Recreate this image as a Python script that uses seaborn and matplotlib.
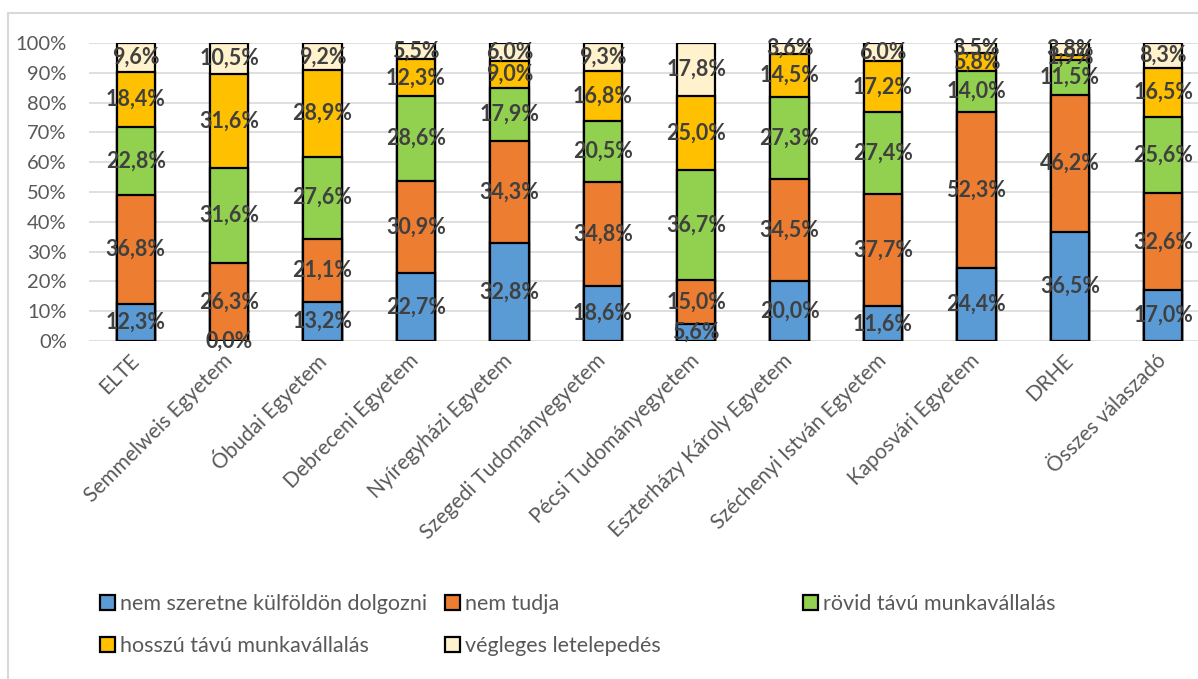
import pandas as pd
import matplotlib.pyplot as plt
import seaborn as sns
from matplotlib.patches import Patch, Rectangle

# Data (percent)
universities = ['ELTE', 'Semmelweis Egyetem', 'Óbudai Egyetem', 'Debreceni Egyetem',
                'Nyíregyházi Egyetem', 'Szegedi Tudományegyetem', 'Pécsi Tudományegyetem',
                'Eszterházy Károly Egyetem', 'Széchenyi István Egyetem', 'Kaposvári Egyetem',
                'DRHE', 'Összes válaszadó']
series_names = ['nem szeretne külföldön dolgozni', 'nem tudja', 'rövid távú munkavállalás',
                'hosszú távú munkavállalás', 'végleges letelepedés']
nem_szeretne = [12.3, 0.0, 13.2, 22.7, 32.8, 18.6, 5.6, 20.0, 11.6, 24.4, 36.5, 17.0]
nem_tudja = [36.8, 26.3, 21.1, 30.9, 34.3, 34.8, 15.0, 34.5, 37.7, 52.3, 46.2, 32.6]
rovid_tavu = [22.8, 31.6, 27.6, 28.6, 17.9, 20.5, 36.7, 27.3, 27.4, 14.0, 11.5, 25.6]
hosszu_tavu = [18.4, 31.6, 28.9, 12.3, 9.0, 16.8, 25.0, 14.5, 17.2, 5.8, 1.9, 16.5]
vegleges = [9.6, 10.5, 9.2, 5.5, 6.0, 9.3, 17.8, 3.6, 6.0, 3.5, 3.8, 8.3]
colors = ['#5B9BD5', '#ED7D31', '#92D050', '#FFC000', '#FFF2CC']

W, H = 1198, 679


def build_table():
    df = pd.DataFrame({'egyetem': universities})
    for name, vals in zip(series_names, [nem_szeretne, nem_tudja, rovid_tavu, hosszu_tavu, vegleges]):
        df[name] = vals
    return df


def main():
    df = build_table()
    cum = df[series_names].cumsum(axis=1)

    sns.set_style('white')
    plt.rcParams['font.family'] = ['Lato', 'DejaVu Sans']

    fig = plt.figure(figsize=(W / 100, H / 100), dpi=100)
    left, right, top, bottom = 89, 1210, 43, 341
    ax = fig.add_axes([left / W, 1 - bottom / H, (right - left) / W, (bottom - top) / H])

    # stacked bars: draw cumulative totals from the top segment down
    for i in reversed(range(len(series_names))):
        sns.barplot(x=df['egyetem'], y=cum[series_names[i]], order=universities,
                    color=colors[i], saturation=1, edgecolor='black', linewidth=1.6,
                    width=0.41, ax=ax, zorder=2)

    # data labels
    for i, name in enumerate(series_names):
        for j, v in enumerate(df[name]):
            ypos = cum[name][j] - v / 2
            ax.text(j, ypos, f'{v:.1f}%'.replace('.', ','), ha='center', va='center',
                    fontsize=15.5, fontweight='bold', color='#404040', zorder=5)

    ax.set_xlim(-0.5, 11.5)
    ax.set_ylim(0, 100)
    ax.set_yticks(range(0, 101, 10))
    ax.set_yticklabels([f'{t}%' for t in range(0, 101, 10)], fontsize=14.5, color='#595959')
    ax.set_xticks(range(len(universities)))
    ax.set_xticklabels(universities, rotation=45, ha='right', va='center',
                       rotation_mode='anchor', fontsize=15, color='#595959')
    ax.tick_params(axis='both', length=0)
    ax.tick_params(axis='y', pad=16)
    ax.tick_params(axis='x', pad=12)
    ax.set_xlabel('')
    ax.set_ylabel('')
    ax.yaxis.grid(True, color='#D9D9D9', linewidth=1.2, zorder=0)
    ax.set_axisbelow(True)
    for s in ax.spines.values():
        s.set_visible(False)

    # legend entries placed like the Excel layout
    slots = [(100, 604), (445, 604), (803, 604), (100, 646), (445, 646)]
    for (px, py), name, c in zip(slots, series_names, colors):
        h = Patch(facecolor=c, edgecolor='black', linewidth=1.6)
        fig.legend(handles=[h], labels=[name], loc='center left',
                   bbox_to_anchor=(px / W, 1 - py / H), frameon=False,
                   borderpad=0, borderaxespad=0, handlelength=0.7, handleheight=0.7,
                   handletextpad=0.25, fontsize=15.5, labelcolor='#595959')

    # chart area border
    fig.patches.append(Rectangle((8 / W, -0.1), 1.2, 1.1 - 13 / H, transform=fig.transFigure,
                                 fill=False, edgecolor='#D9D9D9', linewidth=1.5))

    fig.savefig('out.png', dpi=100)


if __name__ == "__main__":
    main()
